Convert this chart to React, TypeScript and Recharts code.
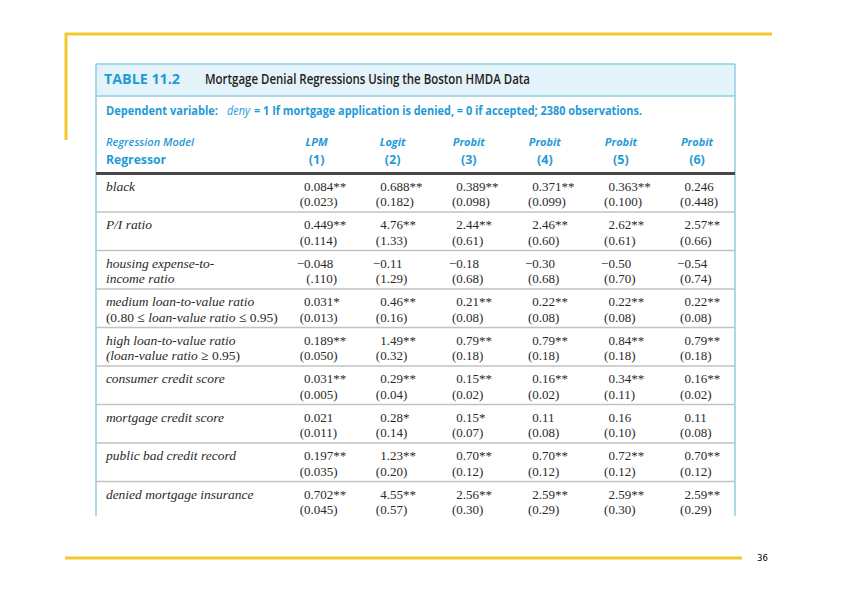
import { ScatterChart, Scatter, XAxis, YAxis, ReferenceLine, Customized } from "recharts";

// table content
const models = ["LPM", "Logit", "Probit", "Probit", "Probit", "Probit"];
const modelNumbers = ["(1)", "(2)", "(3)", "(4)", "(5)", "(6)"];

// "|" switches between italic and upright, starting italic
const regressors = [
  ["black"],
  ["P/I ratio"],
  ["housing expense-to-", "income ratio"],
  ["medium loan-to-value ratio", "|(0.80 ≤ |loan-value ratio| ≤ 0.95)"],
  ["high loan-to-value ratio", "(loan-value ratio| ≥ 0.95)"],
  ["consumer credit score"],
  ["mortgage credit score"],
  ["public bad credit record"],
  ["denied mortgage insurance"],
];

const coefLPM = ["0.084**", "0.449**", "−0.048", "0.031*", "0.189**", "0.031**", "0.021", "0.197**", "0.702**"];
const seLPM = ["(0.023)", "(0.114)", "(.110)", "(0.013)", "(0.050)", "(0.005)", "(0.011)", "(0.035)", "(0.045)"];
const coefLogit = ["0.688**", "4.76**", "−0.11", "0.46**", "1.49**", "0.29**", "0.28*", "1.23**", "4.55**"];
const seLogit = ["(0.182)", "(1.33)", "(1.29)", "(0.16)", "(0.32)", "(0.04)", "(0.14)", "(0.20)", "(0.57)"];
const coefProbit3 = ["0.389**", "2.44**", "−0.18", "0.21**", "0.79**", "0.15**", "0.15*", "0.70**", "2.56**"];
const seProbit3 = ["(0.098)", "(0.61)", "(0.68)", "(0.08)", "(0.18)", "(0.02)", "(0.07)", "(0.12)", "(0.30)"];
const coefProbit4 = ["0.371**", "2.46**", "−0.30", "0.22**", "0.79**", "0.16**", "0.11", "0.70**", "2.59**"];
const seProbit4 = ["(0.099)", "(0.60)", "(0.68)", "(0.08)", "(0.18)", "(0.02)", "(0.08)", "(0.12)", "(0.29)"];
const coefProbit5 = ["0.363**", "2.62**", "−0.50", "0.22**", "0.84**", "0.34**", "0.16", "0.72**", "2.59**"];
const seProbit5 = ["(0.100)", "(0.61)", "(0.70)", "(0.08)", "(0.18)", "(0.11)", "(0.10)", "(0.12)", "(0.30)"];
const coefProbit6 = ["0.246", "2.57**", "−0.54", "0.22**", "0.79**", "0.16**", "0.11", "0.70**", "2.59**"];
const seProbit6 = ["(0.448)", "(0.66)", "(0.74)", "(0.08)", "(0.18)", "(0.02)", "(0.08)", "(0.12)", "(0.29)"];

const columns = [
  [coefLPM, seLPM],
  [coefLogit, seLogit],
  [coefProbit3, seProbit3],
  [coefProbit4, seProbit4],
  [coefProbit5, seProbit5],
  [coefProbit6, seProbit6],
];

const W = 842;
const H = 595;
const BLUE = "#1f9bd6";
const TEAL = "#8ccfe2";
const YELLOW = "#f1c72e";
const INK = "#2a2a2a";
const SERIF = "'Liberation Serif', 'DejaVu Serif', serif";
const SANS = "'Open Sans', 'Liberation Sans', sans-serif";
const LABEL_X = -1.77;

const labelData = regressors.map((lines, i) => ({ x: LABEL_X, y: i + 0.5, lines }));
const cellData = columns.map(([coef, se], c) =>
  coef.map((v, i) => ({ x: c + 1, y: i + 0.5, coef: v, se: se[i] }))
);

function LabelShape(props: any) {
  const { cx, cy, payload } = props;
  return (
    <g>
      {payload.lines.map((line: string, li: number) => (
        <text key={li} x={cx} y={cy - 2 + li * 15.5} fontFamily={SERIF} fontSize={13.5} fill={INK} style={{ whiteSpace: "pre" }}>
          {line.split("|").map((part, pi) => (
            <tspan key={pi} fontStyle={pi % 2 === 0 ? "italic" : "normal"}>{part}</tspan>
          ))}
        </text>
      ))}
    </g>
  );
}

function Decimal({ x, y, text }: { x: number; y: number; text: string }) {
  const k = text.indexOf(".");
  return (
    <g fontFamily={SERIF} fontSize={13} fill={INK}>
      <text x={x} y={y} textAnchor="end">{text.slice(0, k)}</text>
      <text x={x} y={y} textAnchor="start">{text.slice(k)}</text>
    </g>
  );
}

function CellShape(props: any) {
  const { cx, cy, payload } = props;
  const dx = cx - 6;
  return (
    <g>
      <Decimal x={dx} y={cy - 2} text={payload.coef} />
      <Decimal x={dx} y={cy + 13.5} text={payload.se} />
    </g>
  );
}

function ModelTick(props: any) {
  const { x, payload } = props;
  const i = payload.value - 1;
  return (
    <g textAnchor="middle" fill={BLUE} fontFamily={SANS} fontWeight={700}>
      <text x={x} y={146} fontSize={11} fontStyle="italic">{models[i]}</text>
      <text x={x} y={164} fontSize={12.5}>{modelNumbers[i]}</text>
    </g>
  );
}

function Frame() {
  return (
    <g>
      {/* slide decoration */}
      <line x1={65} y1={34} x2={772} y2={34} stroke={YELLOW} strokeWidth={3} />
      <line x1={66} y1={33} x2={66} y2={140} stroke={YELLOW} strokeWidth={3} />
      <line x1={65} y1={558} x2={742} y2={558} stroke={YELLOW} strokeWidth={3} />
      <text x={757} y={561} fontFamily="'DejaVu Sans', sans-serif" fontSize={8.5} fill="#000">36</text>
      {/* table frame */}
      <rect x={96} y={64} width={639} height={32} fill="#e4f3f9" />
      <line x1={96} y1={64} x2={735} y2={64} stroke={TEAL} strokeWidth={1.5} />
      <line x1={96} y1={96} x2={735} y2={96} stroke={TEAL} strokeWidth={1.5} />
      <line x1={96} y1={64} x2={96} y2={516} stroke={TEAL} strokeWidth={1.5} />
      <line x1={735} y1={64} x2={735} y2={516} stroke={TEAL} strokeWidth={1.5} />
      <text x={104} y={84} fontFamily={SANS} fontWeight={700} fontSize={15} fill={BLUE} textLength={76} lengthAdjust="spacingAndGlyphs">TABLE 11.2</text>
      <text x={205} y={84} fontFamily={SANS} fontWeight={600} fontSize={14} fill="#222" textLength={325} lengthAdjust="spacingAndGlyphs">
        Mortgage Denial Regressions Using the Boston HMDA Data
      </text>
      <g fontFamily={SANS} fontSize={11.8} fill={BLUE}>
        <text x={106} y={115} fontWeight={700} textLength={112} lengthAdjust="spacingAndGlyphs">Dependent variable:</text>
        <text x={227} y={115} fontStyle="italic" textLength={23} lengthAdjust="spacingAndGlyphs">deny</text>
        <text x={254} y={115} fontWeight={700} textLength={388} lengthAdjust="spacingAndGlyphs">
          = 1 If mortgage application is denied, = 0 if accepted; 2380 observations.
        </text>
      </g>
      <text x={106} y={146} fontFamily={SANS} fontWeight={600} fontStyle="italic" fontSize={11.5} fill={BLUE} textLength={88} lengthAdjust="spacingAndGlyphs">Regression Model</text>
      <text x={106} y={164} fontFamily={SANS} fontWeight={700} fontSize={12.5} fill={BLUE} textLength={60} lengthAdjust="spacingAndGlyphs">Regressor</text>
    </g>
  );
}

export default function App() {
  return (
    <div style={{ position: "absolute", left: 0, top: 0, width: W, height: H, background: "#fff" }}>
      <ScatterChart width={W} height={H} margin={{ top: 133.5, right: 107, bottom: 75, left: 96 }}>
        <Customized component={<Frame />} />
        <XAxis
          type="number"
          dataKey="x"
          orientation="top"
          domain={[-1.9, 6.5]}
          ticks={[1, 2, 3, 4, 5, 6]}
          height={40}
          tick={(p: any) => <ModelTick {...p} />}
          tickLine={false}
          axisLine={{ stroke: "#474747", strokeWidth: 3 }}
          allowDataOverflow
        />
        <YAxis type="number" dataKey="y" domain={[0, 9]} reversed hide width={0} allowDataOverflow />
        {[1, 2, 3, 4, 5, 6, 7, 8].map((k) => (
          <ReferenceLine key={k} y={k} stroke="#c2c2c2" strokeWidth={1.5} />
        ))}
        <Scatter data={labelData} shape={LabelShape} isAnimationActive={false} />
        {cellData.map((d, c) => (
          <Scatter key={c} data={d} shape={CellShape} isAnimationActive={false} />
        ))}
      </ScatterChart>
    </div>
  );
}
